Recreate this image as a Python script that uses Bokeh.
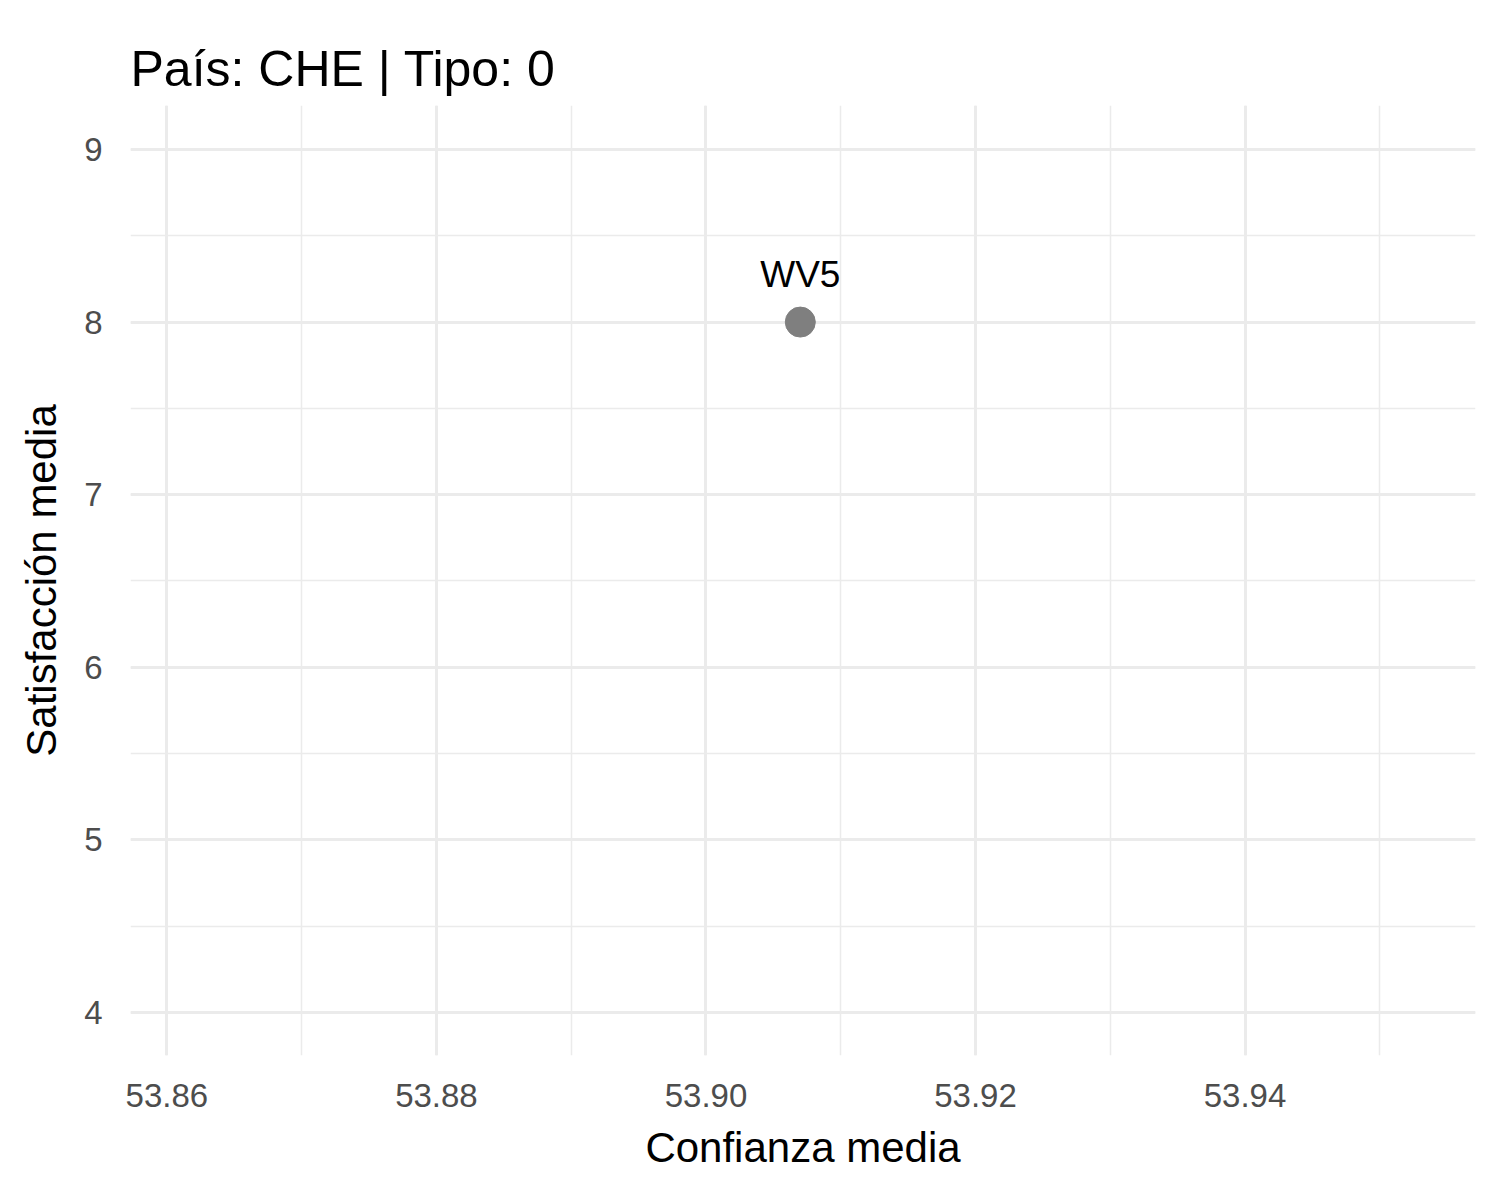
from bokeh.plotting import figure
from bokeh.models import ColumnDataSource, Range1d, SingleIntervalTicker, NumeralTickFormatter
from bokeh.core.properties import value
from bokeh.embed import file_html
from bokeh.resources import INLINE

waves = ["WV5"]
confianza = [53.907]
satisfaccion = [8.0]

src = ColumnDataSource(data=dict(x=confianza, y=satisfaccion, lab=waves))

FONT = "Liberation Sans"

p = figure(width=1484, height=1184, output_backend="svg", toolbar_location=None,
           x_range=Range1d(53.8573, 53.9571), y_range=Range1d(3.75, 9.255),
           min_border_left=130, min_border_right=9, min_border_top=105, min_border_bottom=129,
           title="País: CHE | Tipo: 0")
p.outline_line_color = None
p.background_fill_color = "white"

p.title.text_font = FONT
p.title.text_font_size = "50px"
p.title.text_font_style = "normal"
p.title.text_color = "black"
p.title.align = "left"
p.title.offset = 0
p.title.standoff = 18

p.xaxis.ticker = SingleIntervalTicker(interval=0.02, num_minor_ticks=2)
p.yaxis.ticker = SingleIntervalTicker(interval=1, num_minor_ticks=2)
p.xaxis.formatter = NumeralTickFormatter(format="0.00")

for ax in (p.xaxis, p.yaxis):
    ax.axis_line_color = None
    ax.major_tick_line_color = None
    ax.minor_tick_line_color = None
    ax.major_label_text_font = FONT
    ax.major_label_text_font_size = "33px"
    ax.major_label_text_color = "#4d4d4d"
    ax.axis_label_text_font = FONT
    ax.axis_label_text_font_size = "42px"
    ax.axis_label_text_font_style = "normal"
    ax.axis_label_text_color = "black"

p.xaxis.axis_label = "Confianza media"
p.yaxis.axis_label = "Satisfacción media"
p.xaxis.major_label_standoff = 22
p.yaxis.major_label_standoff = 22
p.xaxis.axis_label_standoff = 14
p.yaxis.axis_label_standoff = 16

for g in (p.xgrid, p.ygrid):
    g.grid_line_color = "#ebebeb"
    g.grid_line_width = 3
    g.minor_grid_line_color = "#ebebeb"
    g.minor_grid_line_width = 1.5

p.scatter(x="x", y="y", source=src, size=30, color="#7f7f7f")
p.text(x="x", y="y", text="lab", source=src, y_offset=-27, text_align="center",
       text_baseline="bottom", text_font=value(FONT), text_font_size="37px", text_color="black")

open("out.html", "w").write(file_html(p, INLINE))
